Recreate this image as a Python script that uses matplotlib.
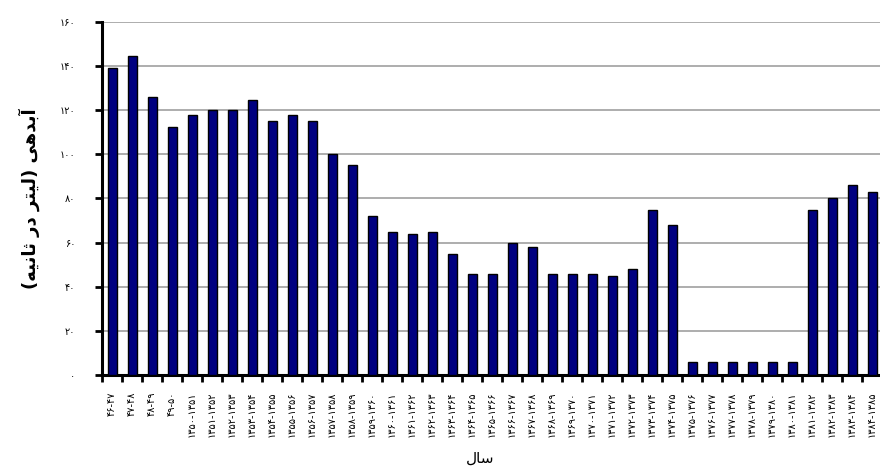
import numpy as np
import matplotlib
matplotlib.use("Agg")
import matplotlib.pyplot as plt

plt.rcParams['font.family'] = ['DejaVu Sans']

# آبدهی سالانه (لیتر در ثانیه)
values = [139, 144.5, 126, 112.5, 118, 120, 120, 124.5, 115, 118, 115, 100, 95,
          72, 65, 64, 65, 55, 46, 46, 60, 58, 46, 46, 46, 45, 48, 75, 68,
          6, 6, 6, 6, 6, 6, 75, 80, 86, 83]
yticks = [0, 20, 40, 60, 80, 100, 120, 140, 160]

fa_digits = str.maketrans('0123456789', '۰۱۲۳۴۵۶۷۸۹')

def fa(s):
    return str(s).translate(fa_digits)

# برچسب سال ها
years = [f'{y}-{y + 1}' for y in range(46, 50)] + \
        [f'13{y}-13{y + 1}' for y in range(50, 85)]
year_labels = [fa(y) for y in years]

# متن فارسی با شکل های نمایشی (matplotlib شکل دهی عربی ندارد)
ylabel = '(' + '\uFEEA\uFEF4\uFEE7\uFE8E\uFE9B' + ' ' + '\uFEAD\uFEA9' + ' ' + \
         '\uFEAE\uFE98\uFEF4\uFEDF' + ')' + ' ' + '\uFEF0\uFEEB\uFEAA\uFE91\uFE81'
xlabel = '\uFEDD\uFE8E\uFEB3'

fig = plt.figure(figsize=(8.8, 4.69), dpi=100)
ax = fig.add_axes([102 / 880, 1 - 375 / 469, 778 / 880, 353 / 469])

x = np.arange(len(values))
ax.bar(x, values, width=0.45, color='#000080', edgecolor='black', linewidth=1.0, zorder=3)

ax.set_xlim(-0.5, 38.4)
ax.set_ylim(0, 160)
ax.set_yticks(yticks)
ax.set_yticklabels([fa(v) for v in yticks], fontsize=7)
ax.yaxis.grid(True, color='#a0a0a0', linewidth=1.2, zorder=0)

# خطوط تیک بین ستون ها، برچسب ها در وسط
ax.set_xticks(x - 0.5)
ax.set_xticklabels([])
ax.set_xticks(x, minor=True)
ax.set_xticklabels(year_labels, minor=True, rotation=90, fontsize=7, va='top')
ax.tick_params(axis='x', which='major', direction='out', length=5, width=2)
ax.tick_params(axis='x', which='minor', length=0, pad=12)
ax.tick_params(axis='y', direction='out', length=5, width=2, pad=14)

for side in ['top', 'right']:
    ax.spines[side].set_visible(False)
ax.spines['left'].set_linewidth(2.2)
ax.spines['bottom'].set_linewidth(2.2)

ax.set_ylabel(ylabel, fontsize=13, fontweight='bold', labelpad=14)
fig.text(480 / 880, 1 - 458 / 469, xlabel, fontsize=11, ha='center', va='center')

fig.savefig('out.png', dpi=100, facecolor='white')
